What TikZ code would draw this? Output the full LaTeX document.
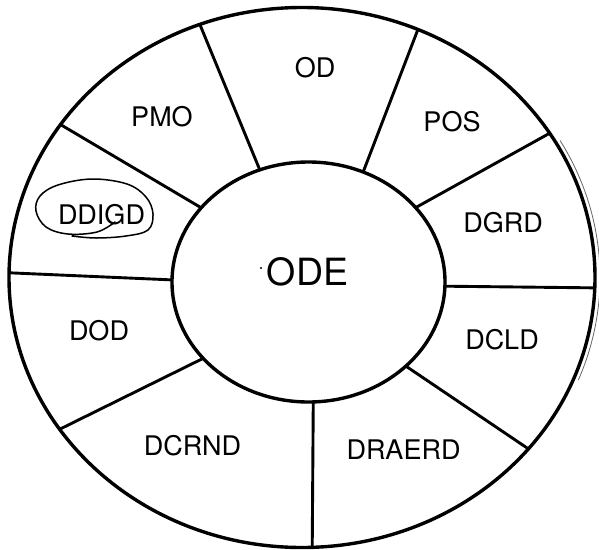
\documentclass[tikz,border=0pt]{standalone}
\usepackage{fontspec}
\setmainfont{TeX Gyre Heros}
\begin{document}
\begin{tikzpicture}[x=1pt,y=-1pt,
  ring/.style={line width=3.4pt},
  divider/.style={line width=2.9pt},
  lbl/.style={inner sep=0pt,font=\fontsize{27}{27}\selectfont},
  centre/.style={inner sep=0pt,font=\fontsize{37.5}{37.5}\selectfont},
  scribble/.style={line width=1.5pt,line join=round,line cap=round},
  artefact/.style={line width=0.8pt,black!60}]
\useasboundingbox (0,0) rectangle (599,549);
% outer and inner rings
\draw[ring] (302,277.5) ellipse [x radius=293pt, y radius=270pt];
\draw[ring] (308.5,282) ellipse [x radius=136.5pt, y radius=120pt];
% dividers: inner angle / outer angle
\foreach \i/\a/\b in {1/-110.9/-110.4, 2/-66.4/-66.7, 3/-38.3/-32.3, 4/2/2.2,
                       5/44.5/39.4, 6/88/88, 7/140.5/145.8, 8/181/181, 9/218.2/214.5}{
  \coordinate (in\i) at ({308.5+136.5*cos(\a)},{282+120*sin(\a)});
  \coordinate (out\i) at ({302+293*cos(\b)},{277.5+270*sin(\b)});
  \draw[divider] (in\i) -- (out\i);
}
% labels
\node[centre] (ode) at (307.5,271.5) {ODE};
\node[lbl] (od) at (315,68) {OD};
\node[lbl] (pos) at (452,122) {POS};
\node[lbl] (dgrd) at (503,223) {DGRD};
\node[lbl] (dcld) at (502,340) {DCLD};
\node[lbl] (draerd) at (403.5,450) {DRAERD};
\node[lbl] (dcrnd) at (192.5,446) {DCRND};
\node[lbl] (dod) at (99,331) {DOD};
\node[lbl] (ddigd) at (101.5,215) {DDIGD};
\node[lbl] (pmo) at (162,117) {PMO};
% hand-drawn loop round DDIGD
\draw[scribble] plot[smooth, tension=0.6] coordinates {(115,222) (97,232) (68,234) (46,227) (36,211) (40,196) (58,185) (92,179) (127,184) (146,197) (153,214) (148,230) (126,236) (96,238) (72,236)};
% faint scan mark beside the right rim
\coordinate (scanstart) at ({302+298*cos(-30)},{277.5+274*sin(-30)});
\draw[artefact] (scanstart) arc[start angle=30, end angle=-22, x radius=298pt, y radius=274pt];
\fill (261,268) circle (1.2pt);
\end{tikzpicture}
\end{document}
